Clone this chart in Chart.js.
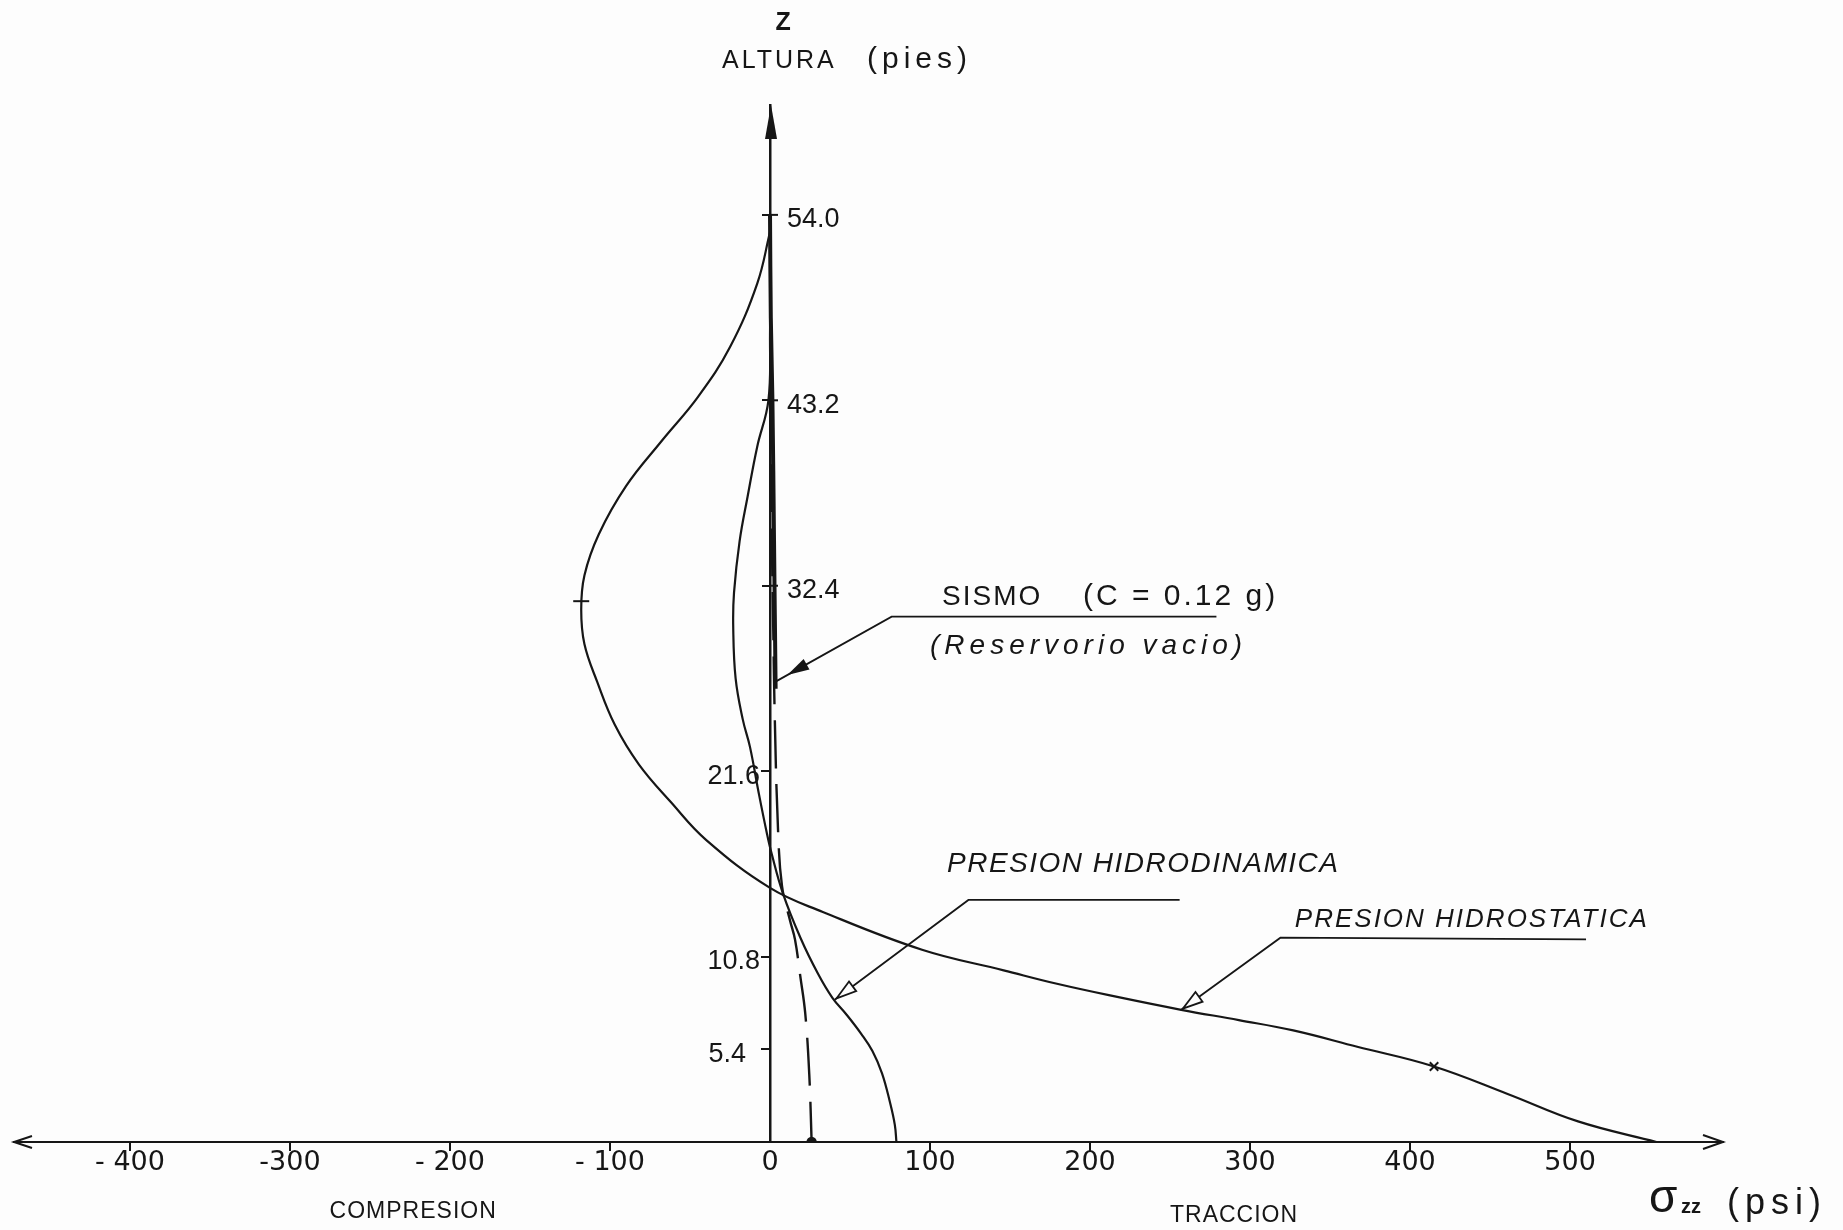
<!DOCTYPE html>
<html>
<head>
<meta charset="utf-8">
<script src="https://cdn.jsdelivr.net/npm/chart.js@4.4.1/dist/chart.umd.min.js"></script>
<style>
  html, body { margin: 0; padding: 0; background: #fdfdfd; }
  #wrap { width: 1843px; height: 1230px; }
</style>
</head>
<body>
<div id="wrap"><canvas id="stressChart" width="1843" height="1230"></canvas></div>
<script>
// esfuerzo vertical sigma_zz (psi) contra altura z (pies)
const xTicks = [-400, -300, -200, -100, 0, 100, 200, 300, 400, 500];
const xTickLabels = ['- 400', '-300', '- 200', '- 100', '0', '100', '200', '300', '400', '500'];
const yTicksLeft = [5.4, 10.8, 21.6];
const yTicksRight = [32.4, 43.2, 54.0];

// presion hidrostatica
const hidroestSigma = [0, -8, -25, -45, -68, -90, -107, -116, -118, -116, -108, -97, -82, -62, -40, 0, 33, 95, 146, 180, 217, 257, 293, 327, 367, 415, 461, 505, 554];
const hidroestZ = [53, 50, 46.3, 43.4, 40.8, 38.2, 35.4, 33, 31, 29, 26.8, 24.3, 22, 19.8, 17.6, 14.8, 13.4, 11.2, 10.0, 9.2, 8.45, 7.7, 7.1, 6.5, 5.55, 4.4, 2.8, 1.2, 0];

// presion hidrodinamica
const hidrodinSigma = [0, 0, -1, -8, -14, -19, -22.5, -23, -21.5, -17, -12.5, -7, -2, 1, 8, 19, 30, 39, 48, 57, 64, 70, 75, 78, 79];
const hidrodinZ = [54, 47, 43.2, 40.5, 37.6, 35, 32, 30, 27, 24.6, 23, 20.3, 18, 16.8, 14.5, 11.9, 9.8, 8.4, 7.4, 6.3, 5.3, 4.0, 2.3, 1.0, 0];

// sismo (c = 0.12 g), reservorio vacio
const sismoSigma = [0, 0.5, 1.5, 2.5, 3.5];
const sismoZ = [54, 48, 43.2, 35, 26.4];
const sismoDashSigma = [0, 1, 2, 3, 5, 7.5, 12.5, 15.6, 19, 22, 24.5, 26];
const sismoDashZ = [43.2, 36, 30, 24.6, 18.2, 14.9, 12.9, 11.8, 9.6, 7.5, 4, 0];

// marcas sobre la curva hidrostatica
const marcaSigma = [-118, 415];
const marcaZ = [31.5, 4.4];

const ink = '#161616';

function toPts(xs, ys) {
  return xs.map((v, i) => ({ x: v, y: ys[i] }));
}

// flechas de referencia: punta, quiebre, fin (en unidades de los ejes)
const leaders = [
  { tip: [3.2, 26.8], bend: [76, 30.6], end: [279, 30.6], head: 'filled' },
  { tip: [40.6, 8.3], bend: [124, 14.1], end: [256, 14.1], head: 'open' },
  { tip: [257, 7.7], bend: [319, 11.9], end: [510, 11.8], head: 'open' }
];

const notes = [
  { text: 'SISMO', at: [107.5, 31.3], font: '28px "Liberation Sans"', spacing: 2 },
  { text: '(C = 0.12 g)', at: [195.6, 31.3], font: '30px "Liberation Sans"', spacing: 3 },
  { text: '(Reservorio vacio)', at: [100, 28.4], font: 'italic 28px "Liberation Sans"', spacing: 5 },
  { text: 'PRESION HIDRODINAMICA', at: [110.6, 15.7], font: 'italic 28px "Liberation Sans"', spacing: 1.5 },
  { text: 'PRESION HIDROSTATICA', at: [328, 12.5], font: 'italic 26px "Liberation Sans"', spacing: 2 }
];

function putText(ctx, text, x, y, font, spacing, align) {
  ctx.font = font;
  ctx.letterSpacing = (spacing || 0) + 'px';
  ctx.textAlign = align || 'left';
  ctx.fillText(text, x, y);
  ctx.letterSpacing = '0px';
}

function arrowHead(ctx, tx, ty, fx, fy, from, to, half, filled) {
  const len = Math.hypot(fx - tx, fy - ty);
  const ux = (fx - tx) / len, uy = (fy - ty) / len;
  const ax = tx + ux * from, ay = ty + uy * from;
  const bx = tx + ux * to, by = ty + uy * to;
  ctx.beginPath();
  ctx.moveTo(ax, ay);
  ctx.lineTo(bx - uy * half, by + ux * half);
  ctx.lineTo(bx + uy * half, by - ux * half);
  ctx.closePath();
  if (filled) {
    ctx.fill();
  } else {
    ctx.fillStyle = '#fdfdfd';
    ctx.fill();
    ctx.fillStyle = ink;
    ctx.stroke();
  }
}

const decor = {
  id: 'decor',
  afterDraw(chart) {
    const { ctx, chartArea: a, scales: { x, y } } = chart;
    const x0 = x.getPixelForValue(0);
    const y0 = y.getPixelForValue(0);
    ctx.save();
    ctx.strokeStyle = ink;
    ctx.fillStyle = ink;
    ctx.lineWidth = 2;

    // flecha del eje z
    ctx.beginPath();
    ctx.moveTo(x0 + 1, a.top);
    ctx.lineTo(x0 - 5, a.top + 34);
    ctx.lineTo(x0 + 7, a.top + 34);
    ctx.closePath();
    ctx.fill();

    // flechas del eje sigma
    ctx.beginPath();
    ctx.moveTo(a.right - 20, y0 - 7);
    ctx.lineTo(a.right, y0);
    ctx.lineTo(a.right - 20, y0 + 7);
    ctx.moveTo(a.left + 18, y0 - 6);
    ctx.lineTo(a.left, y0);
    ctx.lineTo(a.left + 18, y0 + 6);
    ctx.stroke();

    // rotulos del eje z, a ambos lados como en el original
    ctx.textBaseline = 'middle';
    [['y', 'right'], ['y2', 'left']].forEach(([id, align]) => {
      const s = chart.scales[id];
      s.ticks.forEach(t => {
        const py = s.getPixelForValue(t.value);
        const dx = align === 'left' ? 17 : (t.value < 10 ? -24 : -10);
        putText(ctx, t.value.toFixed(1), x0 + dx, py + 5, '27px "Liberation Sans"', 0, align);
        if (align === 'left') {
          ctx.beginPath();
          ctx.moveTo(x0, py);
          ctx.lineTo(x0 + 8, py);
          ctx.stroke();
        }
      });
    });

    // lineas de referencia
    ctx.lineWidth = 1.8;
    leaders.forEach(l => {
      const t = [x.getPixelForValue(l.tip[0]), y.getPixelForValue(l.tip[1])];
      const b = [x.getPixelForValue(l.bend[0]), y.getPixelForValue(l.bend[1])];
      const e = [x.getPixelForValue(l.end[0]), y.getPixelForValue(l.end[1])];
      ctx.beginPath();
      ctx.moveTo(t[0], t[1]);
      ctx.lineTo(b[0], b[1]);
      ctx.lineTo(e[0], e[1]);
      ctx.stroke();
      if (l.head === 'filled') {
        arrowHead(ctx, t[0], t[1], b[0], b[1], 14, 36, 6, true);
      } else {
        arrowHead(ctx, t[0], t[1], b[0], b[1], 2, 22, 6, false);
      }
    });

    // textos
    ctx.textBaseline = 'alphabetic';
    notes.forEach(n => {
      putText(ctx, n.text, x.getPixelForValue(n.at[0]), y.getPixelForValue(n.at[1]), n.font, n.spacing);
    });

    // titulo eje z
    putText(ctx, 'Z', x0 + 13, a.top - 75, 'bold 25px "Liberation Sans"', 0, 'center');
    putText(ctx, 'ALTURA', x0 - 48, a.top - 37, '25px "Liberation Sans"', 3);
    putText(ctx, '(pies)', x0 + 97, a.top - 37, '30px "Liberation Sans"', 5);

    // titulos eje sigma
    putText(ctx, 'COMPRESION', x.getPixelForValue(-223), y0 + 76, '23px "Liberation Sans"', 1, 'center');
    putText(ctx, 'TRACCION', x.getPixelForValue(290), y0 + 80, '23px "Liberation Sans"', 1, 'center');
    putText(ctx, 'σ', a.right - 74, y0 + 70, '46px "Liberation Sans"', 0);
    putText(ctx, 'zz', a.right - 42, y0 + 71, 'bold 20px "Liberation Sans"', 0);
    putText(ctx, '(psi)', a.right + 4, y0 + 72, '36px "Liberation Sans"', 6);
    ctx.restore();
  }
};

const hideZero = c => (c.tick && c.tick.value === 0 ? 'rgba(0,0,0,0)' : ink);

const ctx = document.getElementById('stressChart').getContext('2d');
const stressChart = new Chart(ctx, {
  type: 'scatter',
  data: {
    datasets: [
      {
        label: 'Presion hidrostatica',
        data: toPts(hidroestSigma, hidroestZ),
        showLine: true,
        borderColor: ink,
        borderWidth: 2.2,
        pointRadius: 0,
        tension: 0.4
      },
      {
        label: 'Presion hidrodinamica',
        data: toPts(hidrodinSigma, hidrodinZ),
        showLine: true,
        borderColor: ink,
        borderWidth: 2.2,
        pointRadius: 0,
        tension: 0.4
      },
      {
        label: 'Sismo (reservorio vacio)',
        data: toPts(sismoSigma, sismoZ),
        showLine: true,
        borderColor: ink,
        borderWidth: 4,
        pointRadius: 0,
        tension: 0.4
      },
      {
        label: 'Sismo',
        data: toPts(sismoDashSigma, sismoDashZ),
        showLine: true,
        borderColor: ink,
        borderWidth: 2.4,
        borderDash: [48, 16],
        pointRadius: sismoDashZ.map((z, i) => (i === sismoDashZ.length - 1 ? 4 : 0)),
        pointBackgroundColor: ink,
        pointBorderColor: ink,
        tension: 0.4
      },
      {
        label: 'marcas',
        data: toPts(marcaSigma, marcaZ),
        showLine: false,
        pointStyle: ['line', 'crossRot'],
        pointRadius: [8, 6],
        borderColor: ink,
        borderWidth: 2
      }
    ]
  },
  options: {
    responsive: false,
    animation: false,
    layout: { padding: { left: 14, right: 120, top: 105, bottom: 88 } },
    plugins: {
      legend: { display: false },
      tooltip: { enabled: false }
    },
    scales: {
      x: {
        type: 'linear',
        min: -472.5,
        max: 595.6,
        position: { y: 0 },
        afterBuildTicks: scale => { scale.ticks = xTicks.map(v => ({ value: v })); },
        ticks: {
          callback: value => xTickLabels[xTicks.indexOf(value)],
          color: ink,
          font: { family: 'DejaVu Sans', size: 27 },
          padding: -3,
          maxRotation: 0,
          autoSkip: false
        },
        grid: { drawOnChartArea: false, drawTicks: true, tickLength: 8, color: hideZero, lineWidth: 2 },
        border: { display: true, color: ink, width: 2 }
      },
      y: {
        type: 'linear',
        min: 0,
        max: 60.4,
        position: { x: 0 },
        afterBuildTicks: scale => { scale.ticks = yTicksLeft.map(v => ({ value: v })); },
        ticks: { display: false },
        grid: { drawOnChartArea: false, drawTicks: true, tickLength: 8, color: ink, lineWidth: 2 },
        border: { display: true, color: ink, width: 2.5 }
      },
      y2: {
        type: 'linear',
        min: 0,
        max: 60.4,
        position: { x: 0 },
        afterBuildTicks: scale => { scale.ticks = yTicksRight.map(v => ({ value: v })); },
        ticks: { display: false },
        grid: { drawOnChartArea: false, drawTicks: true, tickLength: 8, color: ink, lineWidth: 2 },
        border: { display: false }
      }
    }
  },
  plugins: [decor]
});
</script>
</body>
</html>
